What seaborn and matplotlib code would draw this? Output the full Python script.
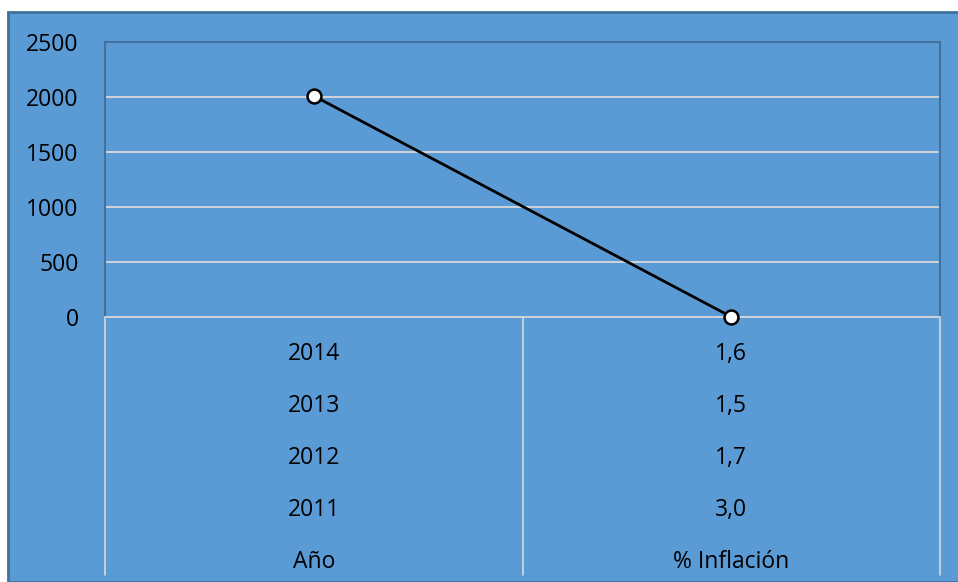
import matplotlib
matplotlib.use("Agg")
import matplotlib.pyplot as plt
import seaborn as sns
import pandas as pd
from matplotlib.patches import Rectangle

# data
categorias = ["Año", "% Inflación"]
valores = [2010, 1.6]
filas_anio = ["2014", "2013", "2012", "2011"]
filas_inflacion = ["1,6", "1,5", "1,7", "3,0"]
yticks = [0, 500, 1000, 1500, 2000, 2500]

sns.set_style("white")
plt.rcParams['font.family'] = ['Open Sans', 'DejaVu Sans']

W, H = 958, 582
fig = plt.figure(figsize=(W / 100, H / 100), dpi=100)
fig.patch.set_facecolor("white")

blue = "#5B9BD5"
dark = "#41719C"
grid = "#D9D9D9"
FS = 16.5

bg = Rectangle((8 / W, 0), 1 - 8 / W + 0.01, (H - 12) / H,
               transform=fig.transFigure, facecolor=blue,
               edgecolor=dark, linewidth=2, zorder=-10)
fig.add_artist(bg)

L, R, T, B = 105, 940, 42, 317
ax = fig.add_axes([L / W, (H - B) / H, (R - L) / W, (B - T) / H])
ax.set_zorder(5)
ax.set_facecolor(blue)

df = pd.DataFrame({"x": list(range(len(categorias))), "y": valores})
sns.lineplot(data=df, x="x", y="y", ax=ax, color="black", linewidth=2,
             marker="o", markersize=10, markerfacecolor="white",
             markeredgecolor="black", markeredgewidth=1.8, sort=False,
             zorder=5, clip_on=False)

ax.set_xlim(-0.5, len(categorias) - 0.5)
ax.set_ylim(0, 2500)
ax.set_yticks(yticks)
ax.set_yticklabels([str(v) for v in yticks], fontsize=FS, color="black")
ax.tick_params(axis="y", length=0, pad=19)
ax.set_xticks([])
ax.set_xlabel("")
ax.set_ylabel("")
for v in yticks[1:-1]:
    ax.axhline(v, color=grid, linewidth=1.3, zorder=1)

for s in ["left", "top", "right"]:
    ax.spines[s].set_color(dark)
    ax.spines[s].set_linewidth(1.5)
ax.spines["bottom"].set_color(grid)
ax.spines["bottom"].set_linewidth(1.3)

# category table below
hpx = B - T
trans = ax.get_xaxis_transform()
for xv in [-0.5, 0.5, 1.5]:
    ax.plot([xv, xv], [0, -(575 - B) / hpx], transform=trans, color=grid,
            linewidth=1.2, clip_on=False)

row_px = [37, 89, 141, 193, 245]
col_rows = [filas_anio + [categorias[0]], filas_inflacion + [categorias[1]]]
for i, rows in enumerate(col_rows):
    for dy, txt in zip(row_px, rows):
        ax.text(i, -dy / hpx, txt, transform=trans, ha="center", va="center",
                fontsize=FS, color="black")

fig.savefig("out.png", dpi=100, facecolor=fig.get_facecolor())
